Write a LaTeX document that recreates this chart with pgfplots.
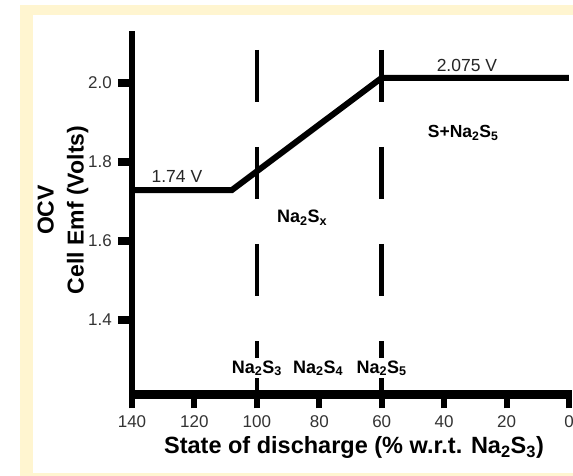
\documentclass[border=0pt]{standalone}
\usepackage{fontspec}
\setmainfont{Liberation Sans}
\usepackage{pgfplots}
\pgfplotsset{compat=1.18}
\definecolor{cream}{RGB}{255,245,208}
\begin{document}
\begin{tikzpicture}[x=1pt,y=1pt]
\path[use as bounding box] (0,0) rectangle (573,476);
\fill[white] (-5,-5) rectangle (590,490);
\fill[cream] (20,-5) rectangle (590,471);
\fill[white] (33,3) rectangle (590,461);
\begin{axis}[
  at={(132pt,81.5pt)}, anchor=south west,
  scale only axis, width=437pt, height=363.5pt,
  x dir=reverse, xmin=0, xmax=140, ymin=1.2114, ymax=2.1316,
  clip=false,
  axis x line*=bottom, axis y line*=left,
  x axis line style={line width=9pt, shorten <=-3pt, shorten >=-3pt},
  y axis line style={line width=6pt},
  xtick={0,20,...,140}, ytick={1.4,1.6,1.8,2.0},
  minor tick num=0,
  tick align=outside, major tick length=14pt,
  x tick style={black, line width=6pt},
  y tick style={black, line width=8pt},
  /pgf/number format/assume math mode=true,
  xticklabel style={font=\fontsize{17}{20}\selectfont, text=black!80, inner sep=0pt, anchor=north, yshift=-6.5pt},
  yticklabel style={/pgf/number format/fixed, /pgf/number format/fixed zerofill, /pgf/number format/precision=1,
    font=\fontsize{17}{20}\selectfont, text=black!80, inner sep=0pt, anchor=east, xshift=-6pt},
  xlabel={State of discharge (\% w.r.t. Na\textsubscript{2}S\textsubscript{3})},
  every axis x label/.style={at={(axis description cs:0.5,0)}, anchor=base, xshift=3.5pt, yshift=-59.5pt,
    font=\bfseries\fontsize{23.5}{28}\selectfont},
  ylabel={OCV\\Cell Emf (Volts)},
  every axis y label/.style={at={(axis description cs:-0.1579,0.50757)}, rotate=90, anchor=center, align=center,
    font=\bfseries\fontsize{23}{30}\selectfont},
]
\addplot[black, line width=4.5pt, dash pattern=on 52pt off 45pt] coordinates {(100,2.0835) (100,1.2177)};
\addplot[black, line width=4.5pt, dash pattern=on 52pt off 45pt] coordinates {(60,2.0835) (60,1.2177)};
\addplot[black, line width=6pt, line join=miter] coordinates {(140,1.729) (108,1.729) (60,2.013) (0,2.013)};
\node[font=\fontsize{17.5}{20}\selectfont, text=black!85, anchor=base] at (axis cs:125.6,1.747) {1.74 V};
\node[font=\fontsize{17.5}{20}\selectfont, text=black!85, anchor=base] at (axis cs:32.7,2.030) {2.075 V};
\node[font=\bfseries\fontsize{17.5}{20}\selectfont, anchor=base] at (axis cs:33.9,1.861) {S+Na\textsubscript{2}S\textsubscript{5}};
\node[font=\bfseries\fontsize{18}{20}\selectfont, anchor=base] at (axis cs:85.5,1.6456) {Na\textsubscript{2}S\textsubscript{x}};
\node[font=\bfseries\fontsize{18}{20}\selectfont, anchor=base, fill=white, inner sep=2pt] at (axis cs:100,1.2658) {Na\textsubscript{2}S\textsubscript{3}};
\node[font=\bfseries\fontsize{18}{20}\selectfont, anchor=base, fill=white, inner sep=2pt] at (axis cs:80.4,1.2658) {Na\textsubscript{2}S\textsubscript{4}};
\node[font=\bfseries\fontsize{18}{20}\selectfont, anchor=base, fill=white, inner sep=2pt] at (axis cs:60,1.2658) {Na\textsubscript{2}S\textsubscript{5}};
\end{axis}
\end{tikzpicture}
\end{document}
